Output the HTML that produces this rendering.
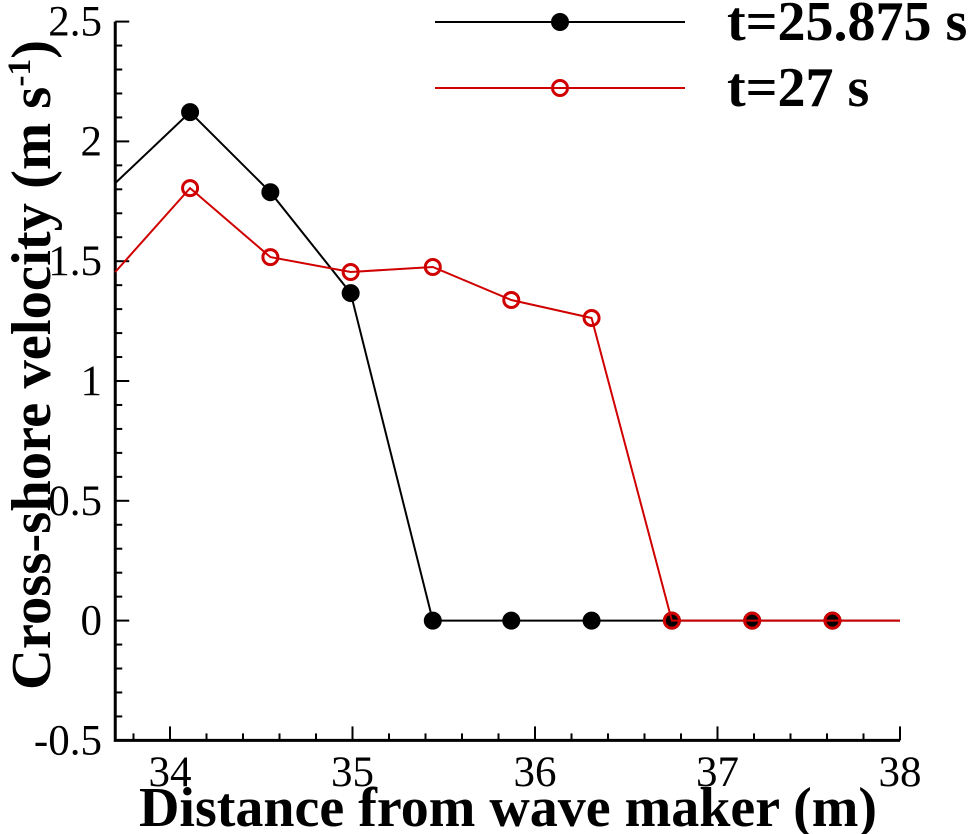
<!DOCTYPE html>
<html><head><meta charset="utf-8"><style>
html,body{margin:0;padding:0;background:#fff;}
svg{display:block;font-family:"Liberation Serif",serif;}
</style></head><body>
<svg id="chart" width="973" height="834" viewBox="0 0 973 834">
<g id="axes"></g><g id="series"></g><g id="legend"></g>
<text x="508" y="826" text-anchor="middle" font-size="56" font-weight="bold" textLength="738" lengthAdjust="spacingAndGlyphs">Distance from wave maker (m)</text>
<text transform="translate(50,365) rotate(-90)" text-anchor="middle" font-size="56" font-weight="bold" textLength="650" lengthAdjust="spacingAndGlyphs">Cross-shore velocity (m s<tspan font-size="33" dy="-20">-1</tspan><tspan dy="20">)</tspan></text>
</svg>
<script>
const xTicks=[34,35,36,37,38];
const yTicks=[-0.5,0,0.5,1,1.5,2,2.5];
const yTickLabels=["-0.5","0","0.5","1","1.5","2","2.5"];
const xValues=[33.70,34.11,34.55,34.99,35.44,35.87,36.31,36.75,37.19,37.63,38];
const series1=[1.826,2.122,1.788,1.367,0,0,0,0,0,0,0];
const series2=[1.455,1.805,1.517,1.455,1.476,1.338,1.263,0,0,0,0];
const markerMask=[false,true,true,true,true,true,true,true,true,true,false];
const names=["t=25.875 s","t=27 s"];
const NS="http://www.w3.org/2000/svg";
const X=v=>170+(v-34)*182.5;
const Y=v=>620.6-v*239.6;
const X0=33.70;
function mk(t,a,p){const e=document.createElementNS(NS,t);for(const k in a)e.setAttribute(k,a[k]);p.appendChild(e);return e;}
const ax=document.getElementById('axes');
const axl=mk('path',{d:`M${X(X0)} ${Y(2.5)} V${Y(-0.5)} H${X(38)}`,fill:'none',stroke:'#000','stroke-width':3},ax);


for(let v=-0.5;v<=2.5001;v+=0.1){const r=Math.round(v*10);const major=r%5===0;
 mk('line',{x1:X(X0),x2:X(X0)+(major?14:7),y1:Y(v),y2:Y(v),stroke:'#000','stroke-width':2},ax);}
yTicks.forEach((v,i)=>{const t=mk('text',{x:102,y:Y(v)+14,'text-anchor':'end','font-size':43},ax);t.textContent=yTickLabels[i];
 
 });
for(let v=33.8;v<=38.001;v+=0.2){const r=Math.round(v*10);const major=r%10===0;
 mk('line',{x1:X(v),x2:X(v),y1:Y(-0.5),y2:Y(-0.5)-(major?14:7),stroke:'#000','stroke-width':2},ax);}
xTicks.forEach(v=>{const t=mk('text',{x:X(v),y:786,'text-anchor':'middle','font-size':43},ax);t.textContent=String(v);
 
 });
const sg=document.getElementById('series');
function draw(vals,color,filled,nm){
 const g=mk('g',{},sg);
 
 
 mk('polyline',{points:xValues.map((x,i)=>X(x)+','+Y(vals[i])).join(' '),fill:'none',stroke:color,'stroke-width':2},g);
 xValues.forEach((x,i)=>{if(!markerMask[i])return;
  const c=mk('circle',{cx:X(x),cy:Y(vals[i]),r:filled?8.5:7.5,fill:filled?color:'none',stroke:color,'stroke-width':filled?1:3},g);
  
  });
}
draw(series1,'#000',true,'series-t25875');
draw(series2,'#d00000',false,'series-t27');
const lg=document.getElementById('legend');
[[22,'#000',true],[88,'#d00000',false]].forEach((d,i)=>{
 const g=mk('g',{},lg);
 
 
 mk('line',{x1:435,x2:685,y1:d[0],y2:d[0],stroke:d[1],'stroke-width':2},g);
 mk('circle',{cx:560,cy:d[0],r:d[2]?8.5:7.5,fill:d[2]?d[1]:'none',stroke:d[1],'stroke-width':d[2]?1:3},g);
 const t=mk('text',{x:727,y:d[0]+18,'font-size':56,'font-weight':'bold'},g);t.textContent=names[i];
});
</script>
</body></html>
